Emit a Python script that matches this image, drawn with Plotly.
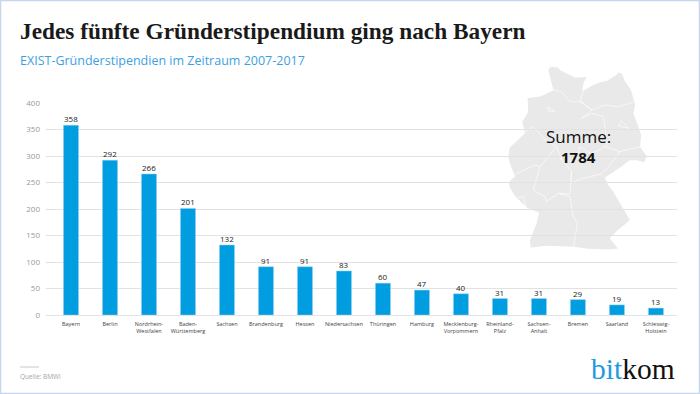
import plotly.graph_objects as go

states = ["Bayern", "Berlin", "Nordrhein-<br>Westfalen", "Baden-<br>Württemberg", "Sachsen", "Brandenburg", "Hessen",
          "Niedersachsen", "Thüringen", "Hamburg", "Mecklenburg-<br>Vorpommern", "Rheinland-<br>Pfalz",
          "Sachsen-<br>Anhalt", "Bremen", "Saarland", "Schleswig-<br>Holstein"]
stipendien = [358, 292, 266, 201, 132, 91, 91, 83, 60, 47, 40, 31, 31, 29, 19, 13]
y_ticks = [0, 50, 100, 150, 200, 250, 300, 350, 400]

W, H = 700, 394
ML, MR, MT, MB = 46, 23, 103, 79
PX = lambda x: (x - ML) / (W - ML - MR)
PY = lambda y: (H - MB - y) / (H - MT - MB)

# Decorative map silhouette, traced on a 3x crop whose corner is at (490, 50)
outline = [(180,45),(205,48),(215,58),(240,70),(255,78),(270,78),(298,75),(285,100),(282,115),(310,100),(330,92),
           (350,88),(375,72),(385,62),(400,68),(408,90),(425,115),(432,135),(440,165),(435,190),(448,225),(458,255),
           (455,290),(475,318),(465,342),(440,335),(420,335),(395,355),(350,385),(360,405),(375,425),(395,460),
           (425,510),(410,525),(385,545),(365,565),(385,590),(392,600),(350,603),(290,600),(250,595),(170,592),
           (118,598),(115,570),(135,520),(142,490),(110,478),(75,445),(55,415),(52,395),(70,378),(58,350),(50,320),
           (55,290),(78,270),(100,248),(92,215),(110,185),(108,140),(150,135),(185,118),(170,60)]
borders = [
    [(185,118),(215,125),(240,155),(275,155)],
    [(282,115),(270,155),(305,180),(345,165),(385,170),(435,155)],
    [(275,155),(305,180),(275,205),(305,190),(340,200),(345,230),(350,285),(330,300),(300,310),(270,290),(262,320),(240,335)],
    [(345,290),(390,305),(430,295),(455,290)],
    [(100,248),(130,230),(165,270),(200,290),(215,330),(245,365),(240,400),(280,385),(335,372),(360,345),(390,305)],
    [(200,290),(150,350),(130,420),(165,440),(170,455),(205,430),(240,432),(245,365)],
    [(70,378),(80,370),(135,345),(150,350)],
    [(205,430),(240,440),(250,500),(262,520),(250,595)],
    [(75,445),(100,440),(110,478)],
    [(172,170),(195,185),(178,185),(172,170)],
    [(385,228),(395,212),(415,235),(385,228)],
]
def zpath(pts, close=False):
    return "M" + "L".join(f"{PX(490 + x / 3):.4f},{PY(50 + y / 3):.4f}" for x, y in pts) + ("Z" if close else "")

shapes = [
    dict(type="path", xref="paper", yref="paper", layer="between", path=zpath(outline, True),
         fillcolor="#e9e9e9", line=dict(color="#ffffff", width=3)),
]
for b in borders:
    shapes.append(dict(type="path", xref="paper", yref="paper", layer="between", path=zpath(b),
                       line=dict(color="#fafafa", width=0.8)))
shapes += [
    dict(type="rect", xref="paper", yref="paper", x0=PX(0.5), x1=PX(699.5), y0=PY(0.5), y1=PY(393.5), layer="above",
         line=dict(color="#c6d6ee", width=1.5)),
    dict(type="line", xref="paper", yref="paper", x0=PX(20), x1=PX(39), y0=PY(367), y1=PY(367),
         line=dict(color="#c8c8c8", width=1)),
]

def note(text, x, y, size, color, family, anchor="left"):
    return dict(text=text, x=PX(x), y=PY(y), xref="paper", yref="paper", xanchor=anchor, yanchor="middle",
                showarrow=False, font=dict(size=size, color=color, family=family), borderpad=0, borderwidth=0)

SANS = "Open Sans"
SERIF = "Liberation Serif"
annotations = [
    note("<b>Jedes fünfte Gründerstipendium ging nach Bayern</b>", 20, 31, 23.3, "#1a1a1a", SERIF),
    note("EXIST-Gründerstipendien im Zeitraum 2007-2017", 20, 60, 12.5, "#3d9fe0", SANS),
    note("Summe:", 578.5, 136, 17, "#111111", SANS, "center"),
    note("<b>1784</b>", 578.5, 157, 15, "#111111", SANS, "center"),
    note("Quelle: BMWi", 20, 376, 6.5, "#a5a5a5", SANS),
    note("<span style='color:#1f9ae0'>bit</span>kom", 675, 369, 29.5, "#111111", SERIF, "right"),
]
for state, value in zip(states, stipendien):
    annotations.append(dict(text=str(value), x=state, y=value, xref="x", yref="y", yanchor="middle", xanchor="center",
                            yshift=6.5, showarrow=False, font=dict(size=8, color="#222222", family=SANS)))

fig = go.Figure(go.Bar(
    x=states, y=stipendien,
    marker=dict(color="#009de0", line=dict(color="#8fcdf0", width=0.5)), width=15 / 39,
))
fig.update_layout(
    width=W, height=H, autosize=False, paper_bgcolor="white", plot_bgcolor="white", showlegend=False,
    margin=dict(l=ML, r=MR, t=MT, b=MB, pad=0), shapes=shapes, annotations=annotations,
    xaxis=dict(type="category", categoryorder="array", categoryarray=states, range=[-0.641, 15.54], showgrid=False,
               showline=True, linecolor="#dfe3ea", linewidth=1, ticks="", tickangle=0, automargin=False,
               ticklabelstandoff=3, tickfont=dict(size=5.5, color="#444444", family=SANS)),
    yaxis=dict(range=[0, 400], tickvals=y_ticks, showgrid=True, gridcolor="#e2e2e2", gridwidth=1.3, zeroline=False,
               showline=False, ticks="", automargin=False, ticklabelstandoff=5,
               tickfont=dict(size=8, color="#999999", family=SANS)),
)
fig.write_html("out.html", config={"displayModeBar": False},
               post_script="document.body.style.margin='0';document.documentElement.style.overflow='hidden';")
